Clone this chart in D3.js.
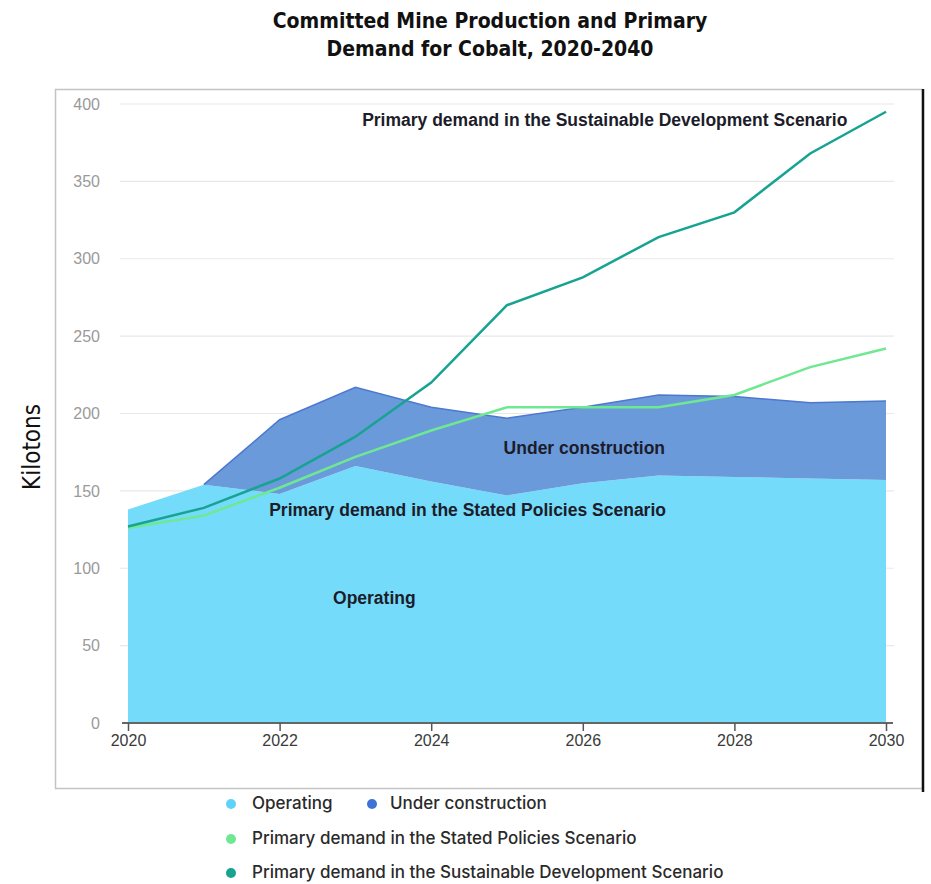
<!DOCTYPE html>
<html>
<head>
<meta charset="utf-8">
<script src="https://cdn.jsdelivr.net/npm/d3@7"></script>
<style>
  html, body { margin: 0; padding: 0; background: #fff; }
  svg { display: block; }
</style>
</head>
<body>
<svg id="chart" width="931" height="884"></svg>
<script>
// Cobalt supply and demand outlook, kilotons per year
const years = [2020, 2021, 2022, 2023, 2024, 2025, 2026, 2027, 2028, 2029, 2030];
const operating = [138, 154, 148, 166, 156, 147, 155, 160, 159, 158, 157];
const underConstruction = [0, 0, 48, 51, 48, 50, 49, 52, 52, 49, 51];
const statedPolicies = [126, 134, 152, 172, 189, 204, 204, 204, 212, 230, 242];
const sustainableDev = [127, 139, 158, 185, 220, 270, 288, 314, 330, 368, 395];
const yTicks = [0, 50, 100, 150, 200, 250, 300, 350, 400];
const xTicks = [2020, 2022, 2024, 2026, 2028, 2030];

const colors = {
  operating: "#74dbfb",
  underConstruction: "#6b9adb",
  ucEdge: "#4d78cf",
  stated: "#6ee891",
  sustainable: "#17a392"
};

const svg = d3.select("#chart");

// Title
const title = svg.append("g")
  .attr("font-family", "'Liberation Sans Narrow', 'DejaVu Sans Condensed', sans-serif")
  .attr("font-weight", "bold")
  .attr("font-size", 21)
  .attr("fill", "#111")
  .attr("text-anchor", "middle");
title.append("text").attr("x", 490).attr("y", 28).text("Committed Mine Production and Primary");
title.append("text").attr("x", 490).attr("y", 56).text("Demand for Cobalt, 2020-2040");

// Frame around the plot panel
svg.append("rect")
  .attr("x", 55.5).attr("y", 89.5)
  .attr("width", 867).attr("height", 699)
  .attr("fill", "none").attr("stroke", "#c4c4c4").attr("stroke-width", 1.5);
svg.append("line")
  .attr("x1", 923).attr("x2", 923).attr("y1", 89).attr("y2", 792)
  .attr("stroke", "#111").attr("stroke-width", 2.5);

// Y axis title
svg.append("text")
  .attr("transform", "translate(40,447) rotate(-90)")
  .attr("text-anchor", "middle")
  .attr("font-family", "'Liberation Sans Narrow', 'DejaVu Sans Condensed', sans-serif")
  .attr("font-size", 24)
  .attr("font-weight", 500)
  .attr("fill", "#111")
  .text("Kilotons");

const x = d3.scaleLinear().domain([2020, 2030]).range([128, 886]);
const y = d3.scaleLinear().domain([0, 400]).range([723, 104]);

// Gridlines
svg.append("g")
  .selectAll("line")
  .data(yTicks.filter(d => d > 0))
  .join("line")
  .attr("x1", 120).attr("x2", 894)
  .attr("y1", d => y(d)).attr("y2", d => y(d))
  .attr("stroke", "#e8e8e8").attr("stroke-width", 1.2);

// Y tick labels
const yAxis = svg.append("g")
  .attr("transform", "translate(120,0)")
  .call(d3.axisLeft(y).tickValues(yTicks).tickSize(0).tickPadding(20));
yAxis.select(".domain").remove();
yAxis.selectAll("text")
  .attr("font-family", "'Liberation Sans', Arial, sans-serif")
  .attr("font-size", 16)
  .attr("fill", "#9a9a9a");

// Stacked areas
const rows = years.map((yr, i) => ({ year: yr, operating: operating[i], underConstruction: underConstruction[i] }));
const stack = d3.stack().keys(["operating", "underConstruction"]);
const layers = stack(rows);

const area = d3.area()
  .x(d => x(d.data.year))
  .y0(d => y(d[0]))
  .y1(d => y(d[1]));

svg.append("g")
  .selectAll("path")
  .data(layers)
  .join("path")
  .attr("d", area)
  .attr("fill", d => colors[d.key]);

// Upper edge of the under-construction band
const topEdge = d3.line()
  .x(d => x(d.data.year))
  .y(d => y(d[1]));
svg.append("path")
  .datum(layers[1].filter(d => d.data.underConstruction > 0 || d.data.year === 2021))
  .attr("d", topEdge)
  .attr("fill", "none")
  .attr("stroke", colors.ucEdge)
  .attr("stroke-width", 1.5);

// Demand lines
const line = d3.line().x((d, i) => x(years[i])).y(d => y(d));
svg.append("path")
  .attr("d", line(statedPolicies))
  .attr("fill", "none").attr("stroke", colors.stated).attr("stroke-width", 2.5);
svg.append("path")
  .attr("d", line(sustainableDev))
  .attr("fill", "none").attr("stroke", colors.sustainable).attr("stroke-width", 2.5);

// X axis
const xAxis = svg.append("g")
  .attr("transform", "translate(0,723)")
  .call(d3.axisBottom(x).tickValues(xTicks).tickFormat(d3.format("d")).tickSize(8).tickPadding(4));
xAxis.select(".domain")
  .attr("d", "M122,0H893")
  .attr("stroke", "#666").attr("stroke-width", 2);
xAxis.selectAll(".tick line").attr("stroke", "#555").attr("stroke-width", 1.5);
xAxis.selectAll("text")
  .attr("font-family", "'Liberation Sans', Arial, sans-serif")
  .attr("font-size", 16)
  .attr("fill", "#3a3a3a");

// In-chart labels
const labels = [
  { text: "Primary demand in the Sustainable Development Scenario", year: 2026.29, value: 389 },
  { text: "Under construction", year: 2026.02, value: 177 },
  { text: "Primary demand in the Stated Policies Scenario", year: 2024.48, value: 137 },
  { text: "Operating", year: 2023.25, value: 80 }
];
svg.append("g")
  .selectAll("text")
  .data(labels)
  .join("text")
  .attr("x", d => x(d.year))
  .attr("y", d => y(d.value))
  .attr("text-anchor", "middle")
  .attr("dominant-baseline", "middle")
  .attr("font-family", "'Liberation Sans', Arial, sans-serif")
  .attr("font-weight", "bold")
  .attr("font-size", 17.5)
  .attr("fill", "#1c1c2a")
  .text(d => d.text);

// Legend
const legendItems = [
  { label: "Operating", color: "#5fd2fb", x: 231, y: 804, dx: 21 },
  { label: "Under construction", color: "#3f72d6", x: 372, y: 804, dx: 18 },
  { label: "Primary demand in the Stated Policies Scenario", color: "#6ee891", x: 231, y: 839, dx: 21 },
  { label: "Primary demand in the Sustainable Development Scenario", color: "#17a392", x: 231, y: 873, dx: 21 }
];
const legend = svg.append("g")
  .selectAll("g")
  .data(legendItems)
  .join("g")
  .attr("transform", d => `translate(${d.x},${d.y})`);
legend.append("circle").attr("r", 5).attr("fill", d => d.color);
legend.append("text")
  .attr("x", d => d.dx)
  .attr("dominant-baseline", "middle")
  .attr("font-family", "Inter, Roboto, sans-serif")
  .attr("font-size", 17)
  .attr("font-weight", 500)
  .attr("fill", "#2a2a2a")
  .text(d => d.label);
</script>
</body>
</html>
